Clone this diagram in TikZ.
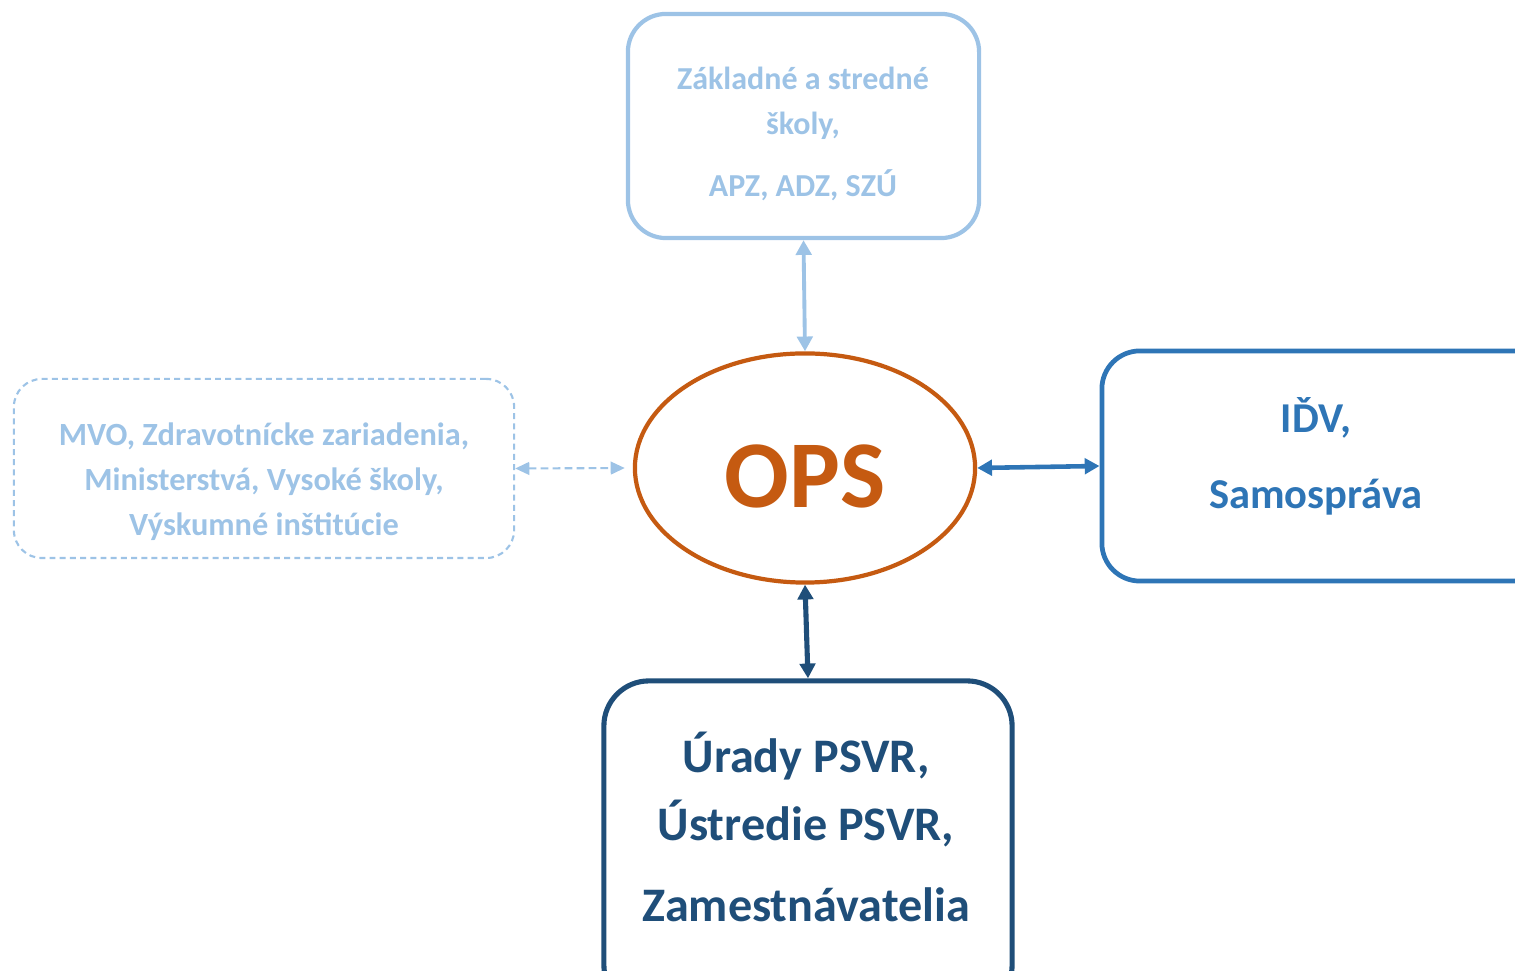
\documentclass[tikz,border=0pt]{standalone}
\usepackage{fontspec}
\setmainfont{Carlito}
\usetikzlibrary{arrows.meta,shapes.geometric}
\definecolor{lblue}{HTML}{9DC3E6}
\definecolor{mblue}{HTML}{2E75B6}
\definecolor{dblue}{HTML}{1F4E79}
\definecolor{orng}{HTML}{C55A11}
\begin{document}
\begin{tikzpicture}[x=0.01cm,y=-0.01cm,
  boxshape/.style={draw, rectangle, rounded corners=0.38cm, line width=1.2pt, inner sep=0pt},
  txt/.style={font=\bfseries, align=center, inner sep=0pt},
  conn/.style={line width=1.3pt, {Triangle[length=4.2pt,width=4.4pt]}-{Triangle[length=4.2pt,width=4.4pt]}},
]
\useasboundingbox (0,0) rectangle (1515,971);
\clip (0,0) rectangle (1515,971);

% top box
\node[boxshape, draw=lblue, minimum width=3.51cm, minimum height=2.24cm] (topbox) at (803.5,126) {};
\node[txt, text=lblue, font=\bfseries\fontsize{9.1}{12.8}\selectfont] (toptxt) at (803,134)
  {Základné a stredné\\školy,\\[4.6pt]APZ, ADZ, SZÚ};

% left box
\node[boxshape, draw=lblue, dash pattern=on 1.7pt off 1.2pt, line width=0.6pt, rounded corners=0.28cm,
  minimum width=5.0cm, minimum height=1.79cm] (leftbox) at (264,468.5) {};
\node[txt, text=lblue, font=\bfseries\fontsize{9.2}{12.8}\selectfont] (lefttxt) at (264,482)
  {MVO, Zdravotnícke zariadenia,\\Ministerstvá, Vysoké školy,\\Výskumné inštitúcie};

% central ellipse
\node[ellipse, draw=orng, line width=1.2pt, minimum width=3.40cm, minimum height=2.29cm, inner sep=0pt] (ops) at (805,468) {};
\node[txt, text=orng, font=\bfseries\fontsize{27.2}{30}\selectfont] (opstxt) at (805,476) {OPS};

% right box (clipped at the right edge)
\node[boxshape, draw=mblue, line width=1.35pt, minimum width=4.58cm, minimum height=2.30cm] (rightbox) at (1331,466) {};
\node[txt, text=mblue, font=\bfseries\fontsize{12.1}{21.8}\selectfont] (righttxt) at (1316,456.5)
  {IĎV,\\Samospráva};

% bottom box (clipped at the bottom edge)
\node[boxshape, draw=dblue, line width=1.45pt, rounded corners=0.45cm, minimum width=4.08cm, minimum height=3.29cm] (botbox) at (808,845.5) {};
\node[txt, text=dblue, font=\bfseries\fontsize{13.7}{19.3}\selectfont] (bottxt) at (806,827)
  {Úrady PSVR,\\Ústredie PSVR,\\[4pt]Zamestnávatelia};

% connectors
\draw[conn, draw=lblue, line width=1.1pt] (topbox.south) -- (ops.north);
\draw[lblue, line width=0.6pt, dash pattern=on 2.2pt off 1.2pt,
  {Triangle[length=4pt,width=3.6pt]}-{Triangle[length=4pt,width=3.6pt]}, shorten >=0.08cm]
  (leftbox.east) -- (ops.west);
\draw[conn, draw=mblue] (ops.east) -- (rightbox.west);
\draw[conn, draw=dblue, line width=1.45pt] (ops.south) -- (botbox.north);
\end{tikzpicture}
\end{document}
